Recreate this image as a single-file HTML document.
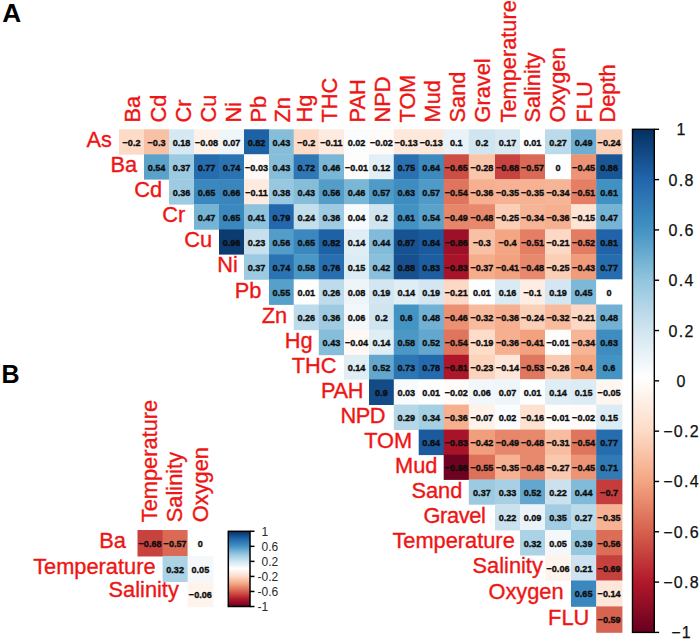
<!DOCTYPE html>
<html><head><meta charset="utf-8"><title>Correlation matrix</title>
<style>
html,body{margin:0;padding:0;background:#fff;}
body{width:700px;height:640px;overflow:hidden;font-family:"Liberation Sans",sans-serif;}
svg{display:block;font-family:"Liberation Sans",sans-serif;}
</style></head><body>
<svg width="700" height="640" viewBox="0 0 700 640">
<rect x="0" y="0" width="700" height="640" fill="#fff"/>
<defs><linearGradient id="g" x1="0" y1="0" x2="0" y2="1"><stop offset="0%" stop-color="#053061"/><stop offset="10%" stop-color="#2166AC"/><stop offset="20%" stop-color="#4393C3"/><stop offset="30%" stop-color="#92C5DE"/><stop offset="40%" stop-color="#D1E5F0"/><stop offset="49.3%" stop-color="#FFFFFF"/><stop offset="60%" stop-color="#FDDBC7"/><stop offset="70%" stop-color="#F4A582"/><stop offset="80%" stop-color="#D6604D"/><stop offset="90%" stop-color="#B2182B"/><stop offset="100%" stop-color="#67001F"/></linearGradient></defs>
<rect x="119.00" y="129.30" width="25.40" height="25.40" fill="#fddbc7"/>
<rect x="144.00" y="129.30" width="25.40" height="25.40" fill="#f8c0a4"/>
<rect x="169.00" y="129.30" width="25.40" height="25.40" fill="#d6e8f2"/>
<rect x="194.00" y="129.30" width="25.40" height="25.40" fill="#fef1e9"/>
<rect x="219.00" y="129.30" width="25.40" height="25.40" fill="#eff6fa"/>
<rect x="244.00" y="129.30" width="25.40" height="25.40" fill="#1e61a5"/>
<rect x="269.00" y="129.30" width="25.10" height="25.40" fill="#86beda"/>
<rect x="293.70" y="129.30" width="25.50" height="25.40" fill="#fddbc7"/>
<rect x="318.80" y="129.30" width="25.60" height="25.40" fill="#feebe0"/>
<rect x="344.00" y="129.30" width="25.40" height="25.40" fill="#fafcfe"/>
<rect x="369.00" y="129.30" width="25.20" height="25.40" fill="#fffbf9"/>
<rect x="393.80" y="129.30" width="25.30" height="25.40" fill="#fee8db"/>
<rect x="418.70" y="129.30" width="25.40" height="25.40" fill="#fee8db"/>
<rect x="443.70" y="129.30" width="25.50" height="25.40" fill="#e8f2f8"/>
<rect x="468.80" y="129.30" width="26.60" height="25.40" fill="#d1e5f0"/>
<rect x="495.00" y="129.30" width="25.40" height="25.40" fill="#d8e9f2"/>
<rect x="520.00" y="129.30" width="25.40" height="25.40" fill="#fdfefe"/>
<rect x="545.00" y="129.30" width="26.40" height="25.40" fill="#bbdaea"/>
<rect x="571.00" y="129.30" width="25.60" height="25.40" fill="#6eaed2"/>
<rect x="596.20" y="129.30" width="26.20" height="25.40" fill="#fbd0b9"/>
<rect x="144.00" y="154.30" width="25.40" height="25.30" fill="#5ba2cb"/>
<rect x="169.00" y="154.30" width="25.40" height="25.30" fill="#9bcae1"/>
<rect x="194.00" y="154.30" width="25.40" height="25.30" fill="#266daf"/>
<rect x="219.00" y="154.30" width="25.40" height="25.30" fill="#2b74b3"/>
<rect x="244.00" y="154.30" width="25.40" height="25.30" fill="#fffaf7"/>
<rect x="269.00" y="154.30" width="25.10" height="25.30" fill="#86beda"/>
<rect x="293.70" y="154.30" width="25.50" height="25.30" fill="#2f78b5"/>
<rect x="318.80" y="154.30" width="25.60" height="25.30" fill="#7ab6d6"/>
<rect x="344.00" y="154.30" width="25.40" height="25.30" fill="#fffdfc"/>
<rect x="369.00" y="154.30" width="25.20" height="25.30" fill="#e3eff6"/>
<rect x="393.80" y="154.30" width="25.30" height="25.30" fill="#2a71b2"/>
<rect x="418.70" y="154.30" width="25.40" height="25.30" fill="#3c8abe"/>
<rect x="443.70" y="154.30" width="25.50" height="25.30" fill="#cd4e44"/>
<rect x="468.80" y="154.30" width="26.60" height="25.30" fill="#f9c5ab"/>
<rect x="495.00" y="154.30" width="25.40" height="25.30" fill="#c8433f"/>
<rect x="520.00" y="154.30" width="25.40" height="25.30" fill="#da6a55"/>
<rect x="545.00" y="154.30" width="26.40" height="25.30" fill="#ffffff"/>
<rect x="571.00" y="154.30" width="25.60" height="25.30" fill="#ec9475"/>
<rect x="596.20" y="154.30" width="26.20" height="25.30" fill="#195696"/>
<rect x="169.00" y="179.20" width="25.40" height="25.40" fill="#9fcbe2"/>
<rect x="194.00" y="179.20" width="25.40" height="25.40" fill="#3a88bd"/>
<rect x="219.00" y="179.20" width="25.40" height="25.40" fill="#3985bc"/>
<rect x="244.00" y="179.20" width="25.40" height="25.40" fill="#feebe0"/>
<rect x="269.00" y="179.20" width="25.10" height="25.40" fill="#98c8e0"/>
<rect x="293.70" y="179.20" width="25.50" height="25.40" fill="#86beda"/>
<rect x="318.80" y="179.20" width="25.60" height="25.40" fill="#539dc8"/>
<rect x="344.00" y="179.20" width="25.40" height="25.40" fill="#7ab6d6"/>
<rect x="369.00" y="179.20" width="25.20" height="25.40" fill="#4f9ac7"/>
<rect x="393.80" y="179.20" width="25.30" height="25.40" fill="#3e8cc0"/>
<rect x="418.70" y="179.20" width="25.40" height="25.40" fill="#4f9ac7"/>
<rect x="443.70" y="179.20" width="25.50" height="25.40" fill="#df755d"/>
<rect x="468.80" y="179.20" width="26.60" height="25.40" fill="#f6b090"/>
<rect x="495.00" y="179.20" width="25.40" height="25.40" fill="#f6b293"/>
<rect x="520.00" y="179.20" width="25.40" height="25.40" fill="#f6b293"/>
<rect x="545.00" y="179.20" width="26.40" height="25.40" fill="#f7b597"/>
<rect x="571.00" y="179.20" width="25.60" height="25.40" fill="#e47f65"/>
<rect x="596.20" y="179.20" width="26.20" height="25.40" fill="#4191c2"/>
<rect x="194.00" y="204.20" width="25.40" height="25.50" fill="#76b4d5"/>
<rect x="219.00" y="204.20" width="25.40" height="25.50" fill="#3a88bd"/>
<rect x="244.00" y="204.20" width="25.40" height="25.50" fill="#8ec2dd"/>
<rect x="269.00" y="204.20" width="25.10" height="25.50" fill="#2368ad"/>
<rect x="293.70" y="204.20" width="25.50" height="25.50" fill="#c4dfec"/>
<rect x="318.80" y="204.20" width="25.60" height="25.50" fill="#9fcbe2"/>
<rect x="344.00" y="204.20" width="25.40" height="25.50" fill="#f6fafc"/>
<rect x="369.00" y="204.20" width="25.20" height="25.50" fill="#d1e5f0"/>
<rect x="393.80" y="204.20" width="25.30" height="25.50" fill="#4191c2"/>
<rect x="418.70" y="204.20" width="25.40" height="25.50" fill="#5ba2cb"/>
<rect x="443.70" y="204.20" width="25.50" height="25.50" fill="#e6866a"/>
<rect x="468.80" y="204.20" width="26.60" height="25.50" fill="#e8896d"/>
<rect x="495.00" y="204.20" width="25.40" height="25.50" fill="#fbceb6"/>
<rect x="520.00" y="204.20" width="25.40" height="25.50" fill="#f7b597"/>
<rect x="545.00" y="204.20" width="26.40" height="25.50" fill="#f6b090"/>
<rect x="571.00" y="204.20" width="25.60" height="25.50" fill="#fee4d5"/>
<rect x="596.20" y="204.20" width="26.20" height="25.50" fill="#76b4d5"/>
<rect x="219.00" y="229.30" width="25.40" height="25.30" fill="#0b3b70"/>
<rect x="244.00" y="229.30" width="25.40" height="25.30" fill="#c8e0ed"/>
<rect x="269.00" y="229.30" width="25.10" height="25.30" fill="#539dc8"/>
<rect x="293.70" y="229.30" width="25.50" height="25.30" fill="#3a88bd"/>
<rect x="318.80" y="229.30" width="25.60" height="25.30" fill="#1e61a5"/>
<rect x="344.00" y="229.30" width="25.40" height="25.30" fill="#dfedf4"/>
<rect x="369.00" y="229.30" width="25.20" height="25.30" fill="#82bbd9"/>
<rect x="393.80" y="229.30" width="25.30" height="25.30" fill="#175392"/>
<rect x="418.70" y="229.30" width="25.40" height="25.30" fill="#1b5b9d"/>
<rect x="443.70" y="229.30" width="25.50" height="25.30" fill="#9c1127"/>
<rect x="468.80" y="229.30" width="26.60" height="25.30" fill="#f8c0a4"/>
<rect x="495.00" y="229.30" width="25.40" height="25.30" fill="#f4a582"/>
<rect x="520.00" y="229.30" width="25.40" height="25.30" fill="#e47f65"/>
<rect x="545.00" y="229.30" width="26.40" height="25.30" fill="#fdd8c4"/>
<rect x="571.00" y="229.30" width="25.60" height="25.30" fill="#e27c62"/>
<rect x="596.20" y="229.30" width="26.20" height="25.30" fill="#2063a8"/>
<rect x="244.00" y="254.20" width="25.40" height="25.60" fill="#9bcae1"/>
<rect x="269.00" y="254.20" width="25.10" height="25.60" fill="#2b74b3"/>
<rect x="293.70" y="254.20" width="25.50" height="25.60" fill="#4b98c6"/>
<rect x="318.80" y="254.20" width="25.60" height="25.60" fill="#286fb1"/>
<rect x="344.00" y="254.20" width="25.40" height="25.60" fill="#dcecf4"/>
<rect x="369.00" y="254.20" width="25.20" height="25.60" fill="#8ac0db"/>
<rect x="393.80" y="254.20" width="25.30" height="25.60" fill="#16508e"/>
<rect x="418.70" y="254.20" width="25.40" height="25.60" fill="#1d5ea1"/>
<rect x="443.70" y="254.20" width="25.50" height="25.60" fill="#a71429"/>
<rect x="468.80" y="254.20" width="26.60" height="25.60" fill="#f5ad8c"/>
<rect x="495.00" y="254.20" width="25.40" height="25.60" fill="#f2a27f"/>
<rect x="520.00" y="254.20" width="25.40" height="25.60" fill="#e8896d"/>
<rect x="545.00" y="254.20" width="26.40" height="25.60" fill="#fbceb6"/>
<rect x="571.00" y="254.20" width="25.60" height="25.60" fill="#f09b7a"/>
<rect x="596.20" y="254.20" width="26.20" height="25.60" fill="#266daf"/>
<rect x="269.00" y="279.40" width="25.10" height="25.50" fill="#57a0ca"/>
<rect x="293.70" y="279.40" width="25.50" height="25.50" fill="#fdfefe"/>
<rect x="318.80" y="279.40" width="25.60" height="25.50" fill="#bedbeb"/>
<rect x="344.00" y="279.40" width="25.40" height="25.50" fill="#edf5f9"/>
<rect x="369.00" y="279.40" width="25.20" height="25.50" fill="#d3e6f1"/>
<rect x="393.80" y="279.40" width="25.30" height="25.50" fill="#dfedf4"/>
<rect x="418.70" y="279.40" width="25.40" height="25.50" fill="#d3e6f1"/>
<rect x="443.70" y="279.40" width="25.50" height="25.50" fill="#fdd8c4"/>
<rect x="468.80" y="279.40" width="26.60" height="25.50" fill="#fdfefe"/>
<rect x="495.00" y="279.40" width="25.40" height="25.50" fill="#daeaf3"/>
<rect x="520.00" y="279.40" width="25.40" height="25.50" fill="#feede3"/>
<rect x="545.00" y="279.40" width="26.40" height="25.50" fill="#d3e6f1"/>
<rect x="571.00" y="279.40" width="25.60" height="25.50" fill="#7eb8d7"/>
<rect x="596.20" y="279.40" width="26.20" height="25.50" fill="#ffffff"/>
<rect x="293.70" y="304.50" width="25.50" height="25.60" fill="#bedbeb"/>
<rect x="318.80" y="304.50" width="25.60" height="25.60" fill="#9fcbe2"/>
<rect x="344.00" y="304.50" width="25.40" height="25.60" fill="#f1f7fa"/>
<rect x="369.00" y="304.50" width="25.20" height="25.60" fill="#d1e5f0"/>
<rect x="393.80" y="304.50" width="25.30" height="25.60" fill="#4393c3"/>
<rect x="418.70" y="304.50" width="25.40" height="25.60" fill="#72b1d3"/>
<rect x="443.70" y="304.50" width="25.50" height="25.60" fill="#eb9072"/>
<rect x="468.80" y="304.50" width="26.60" height="25.60" fill="#f8bb9e"/>
<rect x="495.00" y="304.50" width="25.40" height="25.60" fill="#f6b090"/>
<rect x="520.00" y="304.50" width="25.40" height="25.60" fill="#fbd0b9"/>
<rect x="545.00" y="304.50" width="26.40" height="25.60" fill="#f8bb9e"/>
<rect x="571.00" y="304.50" width="25.60" height="25.60" fill="#fdd8c4"/>
<rect x="596.20" y="304.50" width="26.20" height="25.60" fill="#72b1d3"/>
<rect x="318.80" y="329.70" width="25.60" height="25.50" fill="#86beda"/>
<rect x="344.00" y="329.70" width="25.40" height="25.50" fill="#fff8f4"/>
<rect x="369.00" y="329.70" width="25.20" height="25.50" fill="#dfedf4"/>
<rect x="393.80" y="329.70" width="25.30" height="25.50" fill="#4b98c6"/>
<rect x="418.70" y="329.70" width="25.40" height="25.50" fill="#63a7ce"/>
<rect x="443.70" y="329.70" width="25.50" height="25.50" fill="#df755d"/>
<rect x="468.80" y="329.70" width="26.60" height="25.50" fill="#fdddca"/>
<rect x="495.00" y="329.70" width="25.40" height="25.50" fill="#f6b090"/>
<rect x="520.00" y="329.70" width="25.40" height="25.50" fill="#f2a27f"/>
<rect x="545.00" y="329.70" width="26.40" height="25.50" fill="#fffdfc"/>
<rect x="571.00" y="329.70" width="25.60" height="25.50" fill="#f7b597"/>
<rect x="596.20" y="329.70" width="26.20" height="25.50" fill="#3e8cc0"/>
<rect x="344.00" y="354.80" width="25.40" height="24.90" fill="#dfedf4"/>
<rect x="369.00" y="354.80" width="25.20" height="24.90" fill="#63a7ce"/>
<rect x="393.80" y="354.80" width="25.30" height="24.90" fill="#2d76b4"/>
<rect x="418.70" y="354.80" width="25.40" height="24.90" fill="#246aae"/>
<rect x="443.70" y="354.80" width="25.50" height="24.90" fill="#ae172a"/>
<rect x="468.80" y="354.80" width="26.60" height="24.90" fill="#fcd3bd"/>
<rect x="495.00" y="354.80" width="25.40" height="24.90" fill="#fee6d8"/>
<rect x="520.00" y="354.80" width="25.40" height="24.90" fill="#e07860"/>
<rect x="545.00" y="354.80" width="26.40" height="24.90" fill="#facbb2"/>
<rect x="571.00" y="354.80" width="25.60" height="24.90" fill="#f4a582"/>
<rect x="596.20" y="354.80" width="26.20" height="24.90" fill="#4393c3"/>
<rect x="369.00" y="379.30" width="25.20" height="25.70" fill="#134b86"/>
<rect x="393.80" y="379.30" width="25.30" height="25.70" fill="#f8fbfd"/>
<rect x="418.70" y="379.30" width="25.40" height="25.70" fill="#fdfefe"/>
<rect x="443.70" y="379.30" width="25.50" height="25.70" fill="#fffbf9"/>
<rect x="468.80" y="379.30" width="26.60" height="25.70" fill="#f1f7fa"/>
<rect x="495.00" y="379.30" width="25.40" height="25.70" fill="#eff6fa"/>
<rect x="520.00" y="379.30" width="25.40" height="25.70" fill="#fdfefe"/>
<rect x="545.00" y="379.30" width="26.40" height="25.70" fill="#dfedf4"/>
<rect x="571.00" y="379.30" width="25.60" height="25.70" fill="#dcecf4"/>
<rect x="596.20" y="379.30" width="26.20" height="25.70" fill="#fef6f1"/>
<rect x="393.80" y="404.60" width="25.30" height="25.40" fill="#b5d7e8"/>
<rect x="418.70" y="404.60" width="25.40" height="25.40" fill="#a5cfe3"/>
<rect x="443.70" y="404.60" width="25.50" height="25.40" fill="#f6b090"/>
<rect x="468.80" y="404.60" width="26.60" height="25.40" fill="#fef2eb"/>
<rect x="495.00" y="404.60" width="25.40" height="25.40" fill="#fafcfe"/>
<rect x="520.00" y="404.60" width="25.40" height="25.40" fill="#fde2d2"/>
<rect x="545.00" y="404.60" width="26.40" height="25.40" fill="#fffdfc"/>
<rect x="571.00" y="404.60" width="25.60" height="25.40" fill="#fffbf9"/>
<rect x="596.20" y="404.60" width="26.20" height="25.40" fill="#dcecf4"/>
<rect x="418.70" y="429.60" width="25.40" height="25.50" fill="#1b5b9d"/>
<rect x="443.70" y="429.60" width="25.50" height="25.50" fill="#a71429"/>
<rect x="468.80" y="429.60" width="26.60" height="25.50" fill="#f19e7d"/>
<rect x="495.00" y="429.60" width="25.40" height="25.50" fill="#e6866a"/>
<rect x="520.00" y="429.60" width="25.40" height="25.50" fill="#e8896d"/>
<rect x="545.00" y="429.60" width="26.40" height="25.50" fill="#f8bda1"/>
<rect x="571.00" y="429.60" width="25.60" height="25.50" fill="#df755d"/>
<rect x="596.20" y="429.60" width="26.20" height="25.50" fill="#266daf"/>
<rect x="443.70" y="454.70" width="25.50" height="25.20" fill="#6e0220"/>
<rect x="468.80" y="454.70" width="26.60" height="25.20" fill="#de715a"/>
<rect x="495.00" y="454.70" width="25.40" height="25.20" fill="#f6b293"/>
<rect x="520.00" y="454.70" width="25.40" height="25.20" fill="#e8896d"/>
<rect x="545.00" y="454.70" width="26.40" height="25.20" fill="#fac8af"/>
<rect x="571.00" y="454.70" width="25.60" height="25.20" fill="#ec9475"/>
<rect x="596.20" y="454.70" width="26.20" height="25.20" fill="#307ab6"/>
<rect x="468.80" y="479.50" width="26.60" height="25.20" fill="#9bcae1"/>
<rect x="495.00" y="479.50" width="25.40" height="25.20" fill="#a8d0e4"/>
<rect x="520.00" y="479.50" width="25.40" height="25.20" fill="#63a7ce"/>
<rect x="545.00" y="479.50" width="26.40" height="25.20" fill="#cbe2ee"/>
<rect x="571.00" y="479.50" width="25.60" height="25.20" fill="#82bbd9"/>
<rect x="596.20" y="479.50" width="26.20" height="25.20" fill="#c43c3c"/>
<rect x="495.00" y="504.30" width="25.40" height="26.10" fill="#cbe2ee"/>
<rect x="520.00" y="504.30" width="25.40" height="26.10" fill="#eaf3f8"/>
<rect x="545.00" y="504.30" width="26.40" height="26.10" fill="#a2cde2"/>
<rect x="571.00" y="504.30" width="25.60" height="26.10" fill="#bbdaea"/>
<rect x="596.20" y="504.30" width="26.20" height="26.10" fill="#f6b293"/>
<rect x="520.00" y="530.00" width="25.40" height="25.50" fill="#abd2e5"/>
<rect x="545.00" y="530.00" width="26.40" height="25.50" fill="#f4f8fb"/>
<rect x="571.00" y="530.00" width="25.60" height="25.50" fill="#95c7df"/>
<rect x="596.20" y="530.00" width="26.20" height="25.50" fill="#dc6e58"/>
<rect x="545.00" y="555.10" width="26.40" height="25.80" fill="#fef4ee"/>
<rect x="571.00" y="555.10" width="25.60" height="25.80" fill="#cee3ef"/>
<rect x="596.20" y="555.10" width="26.20" height="25.80" fill="#c6403e"/>
<rect x="571.00" y="580.50" width="25.60" height="26.30" fill="#3a88bd"/>
<rect x="596.20" y="580.50" width="26.20" height="26.30" fill="#fee6d8"/>
<rect x="596.20" y="606.40" width="26.20" height="26.40" fill="#d86350"/>
<text transform="translate(131.50,145.80) scale(1.0,1.05)" font-size="9.1" font-weight="bold" text-anchor="middle" fill="#0c0c0c" stroke="#0c0c0c" stroke-width="0.35">−0.2</text>
<text transform="translate(156.50,145.80) scale(1.0,1.05)" font-size="9.1" font-weight="bold" text-anchor="middle" fill="#0c0c0c" stroke="#0c0c0c" stroke-width="0.35">−0.3</text>
<text transform="translate(181.50,145.80) scale(1.0,1.05)" font-size="9.1" font-weight="bold" text-anchor="middle" fill="#0c0c0c" stroke="#0c0c0c" stroke-width="0.35">0.18</text>
<text transform="translate(206.50,145.80) scale(1.0,1.05)" font-size="9.1" font-weight="bold" text-anchor="middle" fill="#0c0c0c" stroke="#0c0c0c" stroke-width="0.35">−0.08</text>
<text transform="translate(231.50,145.80) scale(1.0,1.05)" font-size="9.1" font-weight="bold" text-anchor="middle" fill="#0c0c0c" stroke="#0c0c0c" stroke-width="0.35">0.07</text>
<text transform="translate(256.50,145.80) scale(1.0,1.05)" font-size="9.1" font-weight="bold" text-anchor="middle" fill="#0c0c0c" stroke="#0c0c0c" stroke-width="0.35">0.82</text>
<text transform="translate(281.35,145.80) scale(1.0,1.05)" font-size="9.1" font-weight="bold" text-anchor="middle" fill="#0c0c0c" stroke="#0c0c0c" stroke-width="0.35">0.43</text>
<text transform="translate(306.25,145.80) scale(1.0,1.05)" font-size="9.1" font-weight="bold" text-anchor="middle" fill="#0c0c0c" stroke="#0c0c0c" stroke-width="0.35">−0.2</text>
<text transform="translate(331.40,145.80) scale(1.0,1.05)" font-size="9.1" font-weight="bold" text-anchor="middle" fill="#0c0c0c" stroke="#0c0c0c" stroke-width="0.35">−0.11</text>
<text transform="translate(356.50,145.80) scale(1.0,1.05)" font-size="9.1" font-weight="bold" text-anchor="middle" fill="#0c0c0c" stroke="#0c0c0c" stroke-width="0.35">0.02</text>
<text transform="translate(381.40,145.80) scale(1.0,1.05)" font-size="9.1" font-weight="bold" text-anchor="middle" fill="#0c0c0c" stroke="#0c0c0c" stroke-width="0.35">−0.02</text>
<text transform="translate(406.25,145.80) scale(1.0,1.05)" font-size="9.1" font-weight="bold" text-anchor="middle" fill="#0c0c0c" stroke="#0c0c0c" stroke-width="0.35">−0.13</text>
<text transform="translate(431.20,145.80) scale(1.0,1.05)" font-size="9.1" font-weight="bold" text-anchor="middle" fill="#0c0c0c" stroke="#0c0c0c" stroke-width="0.35">−0.13</text>
<text transform="translate(456.25,145.80) scale(1.0,1.05)" font-size="9.1" font-weight="bold" text-anchor="middle" fill="#0c0c0c" stroke="#0c0c0c" stroke-width="0.35">0.1</text>
<text transform="translate(481.90,145.80) scale(1.0,1.05)" font-size="9.1" font-weight="bold" text-anchor="middle" fill="#0c0c0c" stroke="#0c0c0c" stroke-width="0.35">0.2</text>
<text transform="translate(507.50,145.80) scale(1.0,1.05)" font-size="9.1" font-weight="bold" text-anchor="middle" fill="#0c0c0c" stroke="#0c0c0c" stroke-width="0.35">0.17</text>
<text transform="translate(532.50,145.80) scale(1.0,1.05)" font-size="9.1" font-weight="bold" text-anchor="middle" fill="#0c0c0c" stroke="#0c0c0c" stroke-width="0.35">0.01</text>
<text transform="translate(558.00,145.80) scale(1.0,1.05)" font-size="9.1" font-weight="bold" text-anchor="middle" fill="#0c0c0c" stroke="#0c0c0c" stroke-width="0.35">0.27</text>
<text transform="translate(583.60,145.80) scale(1.0,1.05)" font-size="9.1" font-weight="bold" text-anchor="middle" fill="#0c0c0c" stroke="#0c0c0c" stroke-width="0.35">0.49</text>
<text transform="translate(609.10,145.80) scale(1.0,1.05)" font-size="9.1" font-weight="bold" text-anchor="middle" fill="#0c0c0c" stroke="#0c0c0c" stroke-width="0.35">−0.24</text>
<text transform="translate(156.50,170.75) scale(1.0,1.05)" font-size="9.1" font-weight="bold" text-anchor="middle" fill="#0c0c0c" stroke="#0c0c0c" stroke-width="0.35">0.54</text>
<text transform="translate(181.50,170.75) scale(1.0,1.05)" font-size="9.1" font-weight="bold" text-anchor="middle" fill="#0c0c0c" stroke="#0c0c0c" stroke-width="0.35">0.37</text>
<text transform="translate(206.50,170.75) scale(1.0,1.05)" font-size="9.1" font-weight="bold" text-anchor="middle" fill="#0c0c0c" stroke="#0c0c0c" stroke-width="0.35">0.77</text>
<text transform="translate(231.50,170.75) scale(1.0,1.05)" font-size="9.1" font-weight="bold" text-anchor="middle" fill="#0c0c0c" stroke="#0c0c0c" stroke-width="0.35">0.74</text>
<text transform="translate(256.50,170.75) scale(1.0,1.05)" font-size="9.1" font-weight="bold" text-anchor="middle" fill="#0c0c0c" stroke="#0c0c0c" stroke-width="0.35">−0.03</text>
<text transform="translate(281.35,170.75) scale(1.0,1.05)" font-size="9.1" font-weight="bold" text-anchor="middle" fill="#0c0c0c" stroke="#0c0c0c" stroke-width="0.35">0.43</text>
<text transform="translate(306.25,170.75) scale(1.0,1.05)" font-size="9.1" font-weight="bold" text-anchor="middle" fill="#0c0c0c" stroke="#0c0c0c" stroke-width="0.35">0.72</text>
<text transform="translate(331.40,170.75) scale(1.0,1.05)" font-size="9.1" font-weight="bold" text-anchor="middle" fill="#0c0c0c" stroke="#0c0c0c" stroke-width="0.35">0.46</text>
<text transform="translate(356.50,170.75) scale(1.0,1.05)" font-size="9.1" font-weight="bold" text-anchor="middle" fill="#0c0c0c" stroke="#0c0c0c" stroke-width="0.35">−0.01</text>
<text transform="translate(381.40,170.75) scale(1.0,1.05)" font-size="9.1" font-weight="bold" text-anchor="middle" fill="#0c0c0c" stroke="#0c0c0c" stroke-width="0.35">0.12</text>
<text transform="translate(406.25,170.75) scale(1.0,1.05)" font-size="9.1" font-weight="bold" text-anchor="middle" fill="#0c0c0c" stroke="#0c0c0c" stroke-width="0.35">0.75</text>
<text transform="translate(431.20,170.75) scale(1.0,1.05)" font-size="9.1" font-weight="bold" text-anchor="middle" fill="#0c0c0c" stroke="#0c0c0c" stroke-width="0.35">0.64</text>
<text transform="translate(456.25,170.75) scale(1.0,1.05)" font-size="9.1" font-weight="bold" text-anchor="middle" fill="#0c0c0c" stroke="#0c0c0c" stroke-width="0.35">−0.65</text>
<text transform="translate(481.90,170.75) scale(1.0,1.05)" font-size="9.1" font-weight="bold" text-anchor="middle" fill="#0c0c0c" stroke="#0c0c0c" stroke-width="0.35">−0.28</text>
<text transform="translate(507.50,170.75) scale(1.0,1.05)" font-size="9.1" font-weight="bold" text-anchor="middle" fill="#0c0c0c" stroke="#0c0c0c" stroke-width="0.35">−0.68</text>
<text transform="translate(532.50,170.75) scale(1.0,1.05)" font-size="9.1" font-weight="bold" text-anchor="middle" fill="#0c0c0c" stroke="#0c0c0c" stroke-width="0.35">−0.57</text>
<text transform="translate(558.00,170.75) scale(1.0,1.05)" font-size="9.1" font-weight="bold" text-anchor="middle" fill="#0c0c0c" stroke="#0c0c0c" stroke-width="0.35">0</text>
<text transform="translate(583.60,170.75) scale(1.0,1.05)" font-size="9.1" font-weight="bold" text-anchor="middle" fill="#0c0c0c" stroke="#0c0c0c" stroke-width="0.35">−0.45</text>
<text transform="translate(609.10,170.75) scale(1.0,1.05)" font-size="9.1" font-weight="bold" text-anchor="middle" fill="#0c0c0c" stroke="#0c0c0c" stroke-width="0.35">0.86</text>
<text transform="translate(181.50,195.70) scale(1.0,1.05)" font-size="9.1" font-weight="bold" text-anchor="middle" fill="#0c0c0c" stroke="#0c0c0c" stroke-width="0.35">0.36</text>
<text transform="translate(206.50,195.70) scale(1.0,1.05)" font-size="9.1" font-weight="bold" text-anchor="middle" fill="#0c0c0c" stroke="#0c0c0c" stroke-width="0.35">0.65</text>
<text transform="translate(231.50,195.70) scale(1.0,1.05)" font-size="9.1" font-weight="bold" text-anchor="middle" fill="#0c0c0c" stroke="#0c0c0c" stroke-width="0.35">0.66</text>
<text transform="translate(256.50,195.70) scale(1.0,1.05)" font-size="9.1" font-weight="bold" text-anchor="middle" fill="#0c0c0c" stroke="#0c0c0c" stroke-width="0.35">−0.11</text>
<text transform="translate(281.35,195.70) scale(1.0,1.05)" font-size="9.1" font-weight="bold" text-anchor="middle" fill="#0c0c0c" stroke="#0c0c0c" stroke-width="0.35">0.38</text>
<text transform="translate(306.25,195.70) scale(1.0,1.05)" font-size="9.1" font-weight="bold" text-anchor="middle" fill="#0c0c0c" stroke="#0c0c0c" stroke-width="0.35">0.43</text>
<text transform="translate(331.40,195.70) scale(1.0,1.05)" font-size="9.1" font-weight="bold" text-anchor="middle" fill="#0c0c0c" stroke="#0c0c0c" stroke-width="0.35">0.56</text>
<text transform="translate(356.50,195.70) scale(1.0,1.05)" font-size="9.1" font-weight="bold" text-anchor="middle" fill="#0c0c0c" stroke="#0c0c0c" stroke-width="0.35">0.46</text>
<text transform="translate(381.40,195.70) scale(1.0,1.05)" font-size="9.1" font-weight="bold" text-anchor="middle" fill="#0c0c0c" stroke="#0c0c0c" stroke-width="0.35">0.57</text>
<text transform="translate(406.25,195.70) scale(1.0,1.05)" font-size="9.1" font-weight="bold" text-anchor="middle" fill="#0c0c0c" stroke="#0c0c0c" stroke-width="0.35">0.63</text>
<text transform="translate(431.20,195.70) scale(1.0,1.05)" font-size="9.1" font-weight="bold" text-anchor="middle" fill="#0c0c0c" stroke="#0c0c0c" stroke-width="0.35">0.57</text>
<text transform="translate(456.25,195.70) scale(1.0,1.05)" font-size="9.1" font-weight="bold" text-anchor="middle" fill="#0c0c0c" stroke="#0c0c0c" stroke-width="0.35">−0.54</text>
<text transform="translate(481.90,195.70) scale(1.0,1.05)" font-size="9.1" font-weight="bold" text-anchor="middle" fill="#0c0c0c" stroke="#0c0c0c" stroke-width="0.35">−0.36</text>
<text transform="translate(507.50,195.70) scale(1.0,1.05)" font-size="9.1" font-weight="bold" text-anchor="middle" fill="#0c0c0c" stroke="#0c0c0c" stroke-width="0.35">−0.35</text>
<text transform="translate(532.50,195.70) scale(1.0,1.05)" font-size="9.1" font-weight="bold" text-anchor="middle" fill="#0c0c0c" stroke="#0c0c0c" stroke-width="0.35">−0.35</text>
<text transform="translate(558.00,195.70) scale(1.0,1.05)" font-size="9.1" font-weight="bold" text-anchor="middle" fill="#0c0c0c" stroke="#0c0c0c" stroke-width="0.35">−0.34</text>
<text transform="translate(583.60,195.70) scale(1.0,1.05)" font-size="9.1" font-weight="bold" text-anchor="middle" fill="#0c0c0c" stroke="#0c0c0c" stroke-width="0.35">−0.51</text>
<text transform="translate(609.10,195.70) scale(1.0,1.05)" font-size="9.1" font-weight="bold" text-anchor="middle" fill="#0c0c0c" stroke="#0c0c0c" stroke-width="0.35">0.61</text>
<text transform="translate(206.50,220.75) scale(1.0,1.05)" font-size="9.1" font-weight="bold" text-anchor="middle" fill="#0c0c0c" stroke="#0c0c0c" stroke-width="0.35">0.47</text>
<text transform="translate(231.50,220.75) scale(1.0,1.05)" font-size="9.1" font-weight="bold" text-anchor="middle" fill="#0c0c0c" stroke="#0c0c0c" stroke-width="0.35">0.65</text>
<text transform="translate(256.50,220.75) scale(1.0,1.05)" font-size="9.1" font-weight="bold" text-anchor="middle" fill="#0c0c0c" stroke="#0c0c0c" stroke-width="0.35">0.41</text>
<text transform="translate(281.35,220.75) scale(1.0,1.05)" font-size="9.1" font-weight="bold" text-anchor="middle" fill="#0c0c0c" stroke="#0c0c0c" stroke-width="0.35">0.79</text>
<text transform="translate(306.25,220.75) scale(1.0,1.05)" font-size="9.1" font-weight="bold" text-anchor="middle" fill="#0c0c0c" stroke="#0c0c0c" stroke-width="0.35">0.24</text>
<text transform="translate(331.40,220.75) scale(1.0,1.05)" font-size="9.1" font-weight="bold" text-anchor="middle" fill="#0c0c0c" stroke="#0c0c0c" stroke-width="0.35">0.36</text>
<text transform="translate(356.50,220.75) scale(1.0,1.05)" font-size="9.1" font-weight="bold" text-anchor="middle" fill="#0c0c0c" stroke="#0c0c0c" stroke-width="0.35">0.04</text>
<text transform="translate(381.40,220.75) scale(1.0,1.05)" font-size="9.1" font-weight="bold" text-anchor="middle" fill="#0c0c0c" stroke="#0c0c0c" stroke-width="0.35">0.2</text>
<text transform="translate(406.25,220.75) scale(1.0,1.05)" font-size="9.1" font-weight="bold" text-anchor="middle" fill="#0c0c0c" stroke="#0c0c0c" stroke-width="0.35">0.61</text>
<text transform="translate(431.20,220.75) scale(1.0,1.05)" font-size="9.1" font-weight="bold" text-anchor="middle" fill="#0c0c0c" stroke="#0c0c0c" stroke-width="0.35">0.54</text>
<text transform="translate(456.25,220.75) scale(1.0,1.05)" font-size="9.1" font-weight="bold" text-anchor="middle" fill="#0c0c0c" stroke="#0c0c0c" stroke-width="0.35">−0.49</text>
<text transform="translate(481.90,220.75) scale(1.0,1.05)" font-size="9.1" font-weight="bold" text-anchor="middle" fill="#0c0c0c" stroke="#0c0c0c" stroke-width="0.35">−0.48</text>
<text transform="translate(507.50,220.75) scale(1.0,1.05)" font-size="9.1" font-weight="bold" text-anchor="middle" fill="#0c0c0c" stroke="#0c0c0c" stroke-width="0.35">−0.25</text>
<text transform="translate(532.50,220.75) scale(1.0,1.05)" font-size="9.1" font-weight="bold" text-anchor="middle" fill="#0c0c0c" stroke="#0c0c0c" stroke-width="0.35">−0.34</text>
<text transform="translate(558.00,220.75) scale(1.0,1.05)" font-size="9.1" font-weight="bold" text-anchor="middle" fill="#0c0c0c" stroke="#0c0c0c" stroke-width="0.35">−0.36</text>
<text transform="translate(583.60,220.75) scale(1.0,1.05)" font-size="9.1" font-weight="bold" text-anchor="middle" fill="#0c0c0c" stroke="#0c0c0c" stroke-width="0.35">−0.15</text>
<text transform="translate(609.10,220.75) scale(1.0,1.05)" font-size="9.1" font-weight="bold" text-anchor="middle" fill="#0c0c0c" stroke="#0c0c0c" stroke-width="0.35">0.47</text>
<text transform="translate(231.50,245.75) scale(1.0,1.05)" font-size="9.1" font-weight="bold" text-anchor="middle" fill="#0c0c0c" stroke="#0c0c0c" stroke-width="0.35">0.96</text>
<text transform="translate(256.50,245.75) scale(1.0,1.05)" font-size="9.1" font-weight="bold" text-anchor="middle" fill="#0c0c0c" stroke="#0c0c0c" stroke-width="0.35">0.23</text>
<text transform="translate(281.35,245.75) scale(1.0,1.05)" font-size="9.1" font-weight="bold" text-anchor="middle" fill="#0c0c0c" stroke="#0c0c0c" stroke-width="0.35">0.56</text>
<text transform="translate(306.25,245.75) scale(1.0,1.05)" font-size="9.1" font-weight="bold" text-anchor="middle" fill="#0c0c0c" stroke="#0c0c0c" stroke-width="0.35">0.65</text>
<text transform="translate(331.40,245.75) scale(1.0,1.05)" font-size="9.1" font-weight="bold" text-anchor="middle" fill="#0c0c0c" stroke="#0c0c0c" stroke-width="0.35">0.82</text>
<text transform="translate(356.50,245.75) scale(1.0,1.05)" font-size="9.1" font-weight="bold" text-anchor="middle" fill="#0c0c0c" stroke="#0c0c0c" stroke-width="0.35">0.14</text>
<text transform="translate(381.40,245.75) scale(1.0,1.05)" font-size="9.1" font-weight="bold" text-anchor="middle" fill="#0c0c0c" stroke="#0c0c0c" stroke-width="0.35">0.44</text>
<text transform="translate(406.25,245.75) scale(1.0,1.05)" font-size="9.1" font-weight="bold" text-anchor="middle" fill="#0c0c0c" stroke="#0c0c0c" stroke-width="0.35">0.87</text>
<text transform="translate(431.20,245.75) scale(1.0,1.05)" font-size="9.1" font-weight="bold" text-anchor="middle" fill="#0c0c0c" stroke="#0c0c0c" stroke-width="0.35">0.84</text>
<text transform="translate(456.25,245.75) scale(1.0,1.05)" font-size="9.1" font-weight="bold" text-anchor="middle" fill="#0c0c0c" stroke="#0c0c0c" stroke-width="0.35">−0.86</text>
<text transform="translate(481.90,245.75) scale(1.0,1.05)" font-size="9.1" font-weight="bold" text-anchor="middle" fill="#0c0c0c" stroke="#0c0c0c" stroke-width="0.35">−0.3</text>
<text transform="translate(507.50,245.75) scale(1.0,1.05)" font-size="9.1" font-weight="bold" text-anchor="middle" fill="#0c0c0c" stroke="#0c0c0c" stroke-width="0.35">−0.4</text>
<text transform="translate(532.50,245.75) scale(1.0,1.05)" font-size="9.1" font-weight="bold" text-anchor="middle" fill="#0c0c0c" stroke="#0c0c0c" stroke-width="0.35">−0.51</text>
<text transform="translate(558.00,245.75) scale(1.0,1.05)" font-size="9.1" font-weight="bold" text-anchor="middle" fill="#0c0c0c" stroke="#0c0c0c" stroke-width="0.35">−0.21</text>
<text transform="translate(583.60,245.75) scale(1.0,1.05)" font-size="9.1" font-weight="bold" text-anchor="middle" fill="#0c0c0c" stroke="#0c0c0c" stroke-width="0.35">−0.52</text>
<text transform="translate(609.10,245.75) scale(1.0,1.05)" font-size="9.1" font-weight="bold" text-anchor="middle" fill="#0c0c0c" stroke="#0c0c0c" stroke-width="0.35">0.81</text>
<text transform="translate(256.50,270.80) scale(1.0,1.05)" font-size="9.1" font-weight="bold" text-anchor="middle" fill="#0c0c0c" stroke="#0c0c0c" stroke-width="0.35">0.37</text>
<text transform="translate(281.35,270.80) scale(1.0,1.05)" font-size="9.1" font-weight="bold" text-anchor="middle" fill="#0c0c0c" stroke="#0c0c0c" stroke-width="0.35">0.74</text>
<text transform="translate(306.25,270.80) scale(1.0,1.05)" font-size="9.1" font-weight="bold" text-anchor="middle" fill="#0c0c0c" stroke="#0c0c0c" stroke-width="0.35">0.58</text>
<text transform="translate(331.40,270.80) scale(1.0,1.05)" font-size="9.1" font-weight="bold" text-anchor="middle" fill="#0c0c0c" stroke="#0c0c0c" stroke-width="0.35">0.76</text>
<text transform="translate(356.50,270.80) scale(1.0,1.05)" font-size="9.1" font-weight="bold" text-anchor="middle" fill="#0c0c0c" stroke="#0c0c0c" stroke-width="0.35">0.15</text>
<text transform="translate(381.40,270.80) scale(1.0,1.05)" font-size="9.1" font-weight="bold" text-anchor="middle" fill="#0c0c0c" stroke="#0c0c0c" stroke-width="0.35">0.42</text>
<text transform="translate(406.25,270.80) scale(1.0,1.05)" font-size="9.1" font-weight="bold" text-anchor="middle" fill="#0c0c0c" stroke="#0c0c0c" stroke-width="0.35">0.88</text>
<text transform="translate(431.20,270.80) scale(1.0,1.05)" font-size="9.1" font-weight="bold" text-anchor="middle" fill="#0c0c0c" stroke="#0c0c0c" stroke-width="0.35">0.83</text>
<text transform="translate(456.25,270.80) scale(1.0,1.05)" font-size="9.1" font-weight="bold" text-anchor="middle" fill="#0c0c0c" stroke="#0c0c0c" stroke-width="0.35">−0.83</text>
<text transform="translate(481.90,270.80) scale(1.0,1.05)" font-size="9.1" font-weight="bold" text-anchor="middle" fill="#0c0c0c" stroke="#0c0c0c" stroke-width="0.35">−0.37</text>
<text transform="translate(507.50,270.80) scale(1.0,1.05)" font-size="9.1" font-weight="bold" text-anchor="middle" fill="#0c0c0c" stroke="#0c0c0c" stroke-width="0.35">−0.41</text>
<text transform="translate(532.50,270.80) scale(1.0,1.05)" font-size="9.1" font-weight="bold" text-anchor="middle" fill="#0c0c0c" stroke="#0c0c0c" stroke-width="0.35">−0.48</text>
<text transform="translate(558.00,270.80) scale(1.0,1.05)" font-size="9.1" font-weight="bold" text-anchor="middle" fill="#0c0c0c" stroke="#0c0c0c" stroke-width="0.35">−0.25</text>
<text transform="translate(583.60,270.80) scale(1.0,1.05)" font-size="9.1" font-weight="bold" text-anchor="middle" fill="#0c0c0c" stroke="#0c0c0c" stroke-width="0.35">−0.43</text>
<text transform="translate(609.10,270.80) scale(1.0,1.05)" font-size="9.1" font-weight="bold" text-anchor="middle" fill="#0c0c0c" stroke="#0c0c0c" stroke-width="0.35">0.77</text>
<text transform="translate(281.35,295.95) scale(1.0,1.05)" font-size="9.1" font-weight="bold" text-anchor="middle" fill="#0c0c0c" stroke="#0c0c0c" stroke-width="0.35">0.55</text>
<text transform="translate(306.25,295.95) scale(1.0,1.05)" font-size="9.1" font-weight="bold" text-anchor="middle" fill="#0c0c0c" stroke="#0c0c0c" stroke-width="0.35">0.01</text>
<text transform="translate(331.40,295.95) scale(1.0,1.05)" font-size="9.1" font-weight="bold" text-anchor="middle" fill="#0c0c0c" stroke="#0c0c0c" stroke-width="0.35">0.26</text>
<text transform="translate(356.50,295.95) scale(1.0,1.05)" font-size="9.1" font-weight="bold" text-anchor="middle" fill="#0c0c0c" stroke="#0c0c0c" stroke-width="0.35">0.08</text>
<text transform="translate(381.40,295.95) scale(1.0,1.05)" font-size="9.1" font-weight="bold" text-anchor="middle" fill="#0c0c0c" stroke="#0c0c0c" stroke-width="0.35">0.19</text>
<text transform="translate(406.25,295.95) scale(1.0,1.05)" font-size="9.1" font-weight="bold" text-anchor="middle" fill="#0c0c0c" stroke="#0c0c0c" stroke-width="0.35">0.14</text>
<text transform="translate(431.20,295.95) scale(1.0,1.05)" font-size="9.1" font-weight="bold" text-anchor="middle" fill="#0c0c0c" stroke="#0c0c0c" stroke-width="0.35">0.19</text>
<text transform="translate(456.25,295.95) scale(1.0,1.05)" font-size="9.1" font-weight="bold" text-anchor="middle" fill="#0c0c0c" stroke="#0c0c0c" stroke-width="0.35">−0.21</text>
<text transform="translate(481.90,295.95) scale(1.0,1.05)" font-size="9.1" font-weight="bold" text-anchor="middle" fill="#0c0c0c" stroke="#0c0c0c" stroke-width="0.35">0.01</text>
<text transform="translate(507.50,295.95) scale(1.0,1.05)" font-size="9.1" font-weight="bold" text-anchor="middle" fill="#0c0c0c" stroke="#0c0c0c" stroke-width="0.35">0.16</text>
<text transform="translate(532.50,295.95) scale(1.0,1.05)" font-size="9.1" font-weight="bold" text-anchor="middle" fill="#0c0c0c" stroke="#0c0c0c" stroke-width="0.35">−0.1</text>
<text transform="translate(558.00,295.95) scale(1.0,1.05)" font-size="9.1" font-weight="bold" text-anchor="middle" fill="#0c0c0c" stroke="#0c0c0c" stroke-width="0.35">0.19</text>
<text transform="translate(583.60,295.95) scale(1.0,1.05)" font-size="9.1" font-weight="bold" text-anchor="middle" fill="#0c0c0c" stroke="#0c0c0c" stroke-width="0.35">0.45</text>
<text transform="translate(609.10,295.95) scale(1.0,1.05)" font-size="9.1" font-weight="bold" text-anchor="middle" fill="#0c0c0c" stroke="#0c0c0c" stroke-width="0.35">0</text>
<text transform="translate(306.25,321.10) scale(1.0,1.05)" font-size="9.1" font-weight="bold" text-anchor="middle" fill="#0c0c0c" stroke="#0c0c0c" stroke-width="0.35">0.26</text>
<text transform="translate(331.40,321.10) scale(1.0,1.05)" font-size="9.1" font-weight="bold" text-anchor="middle" fill="#0c0c0c" stroke="#0c0c0c" stroke-width="0.35">0.36</text>
<text transform="translate(356.50,321.10) scale(1.0,1.05)" font-size="9.1" font-weight="bold" text-anchor="middle" fill="#0c0c0c" stroke="#0c0c0c" stroke-width="0.35">0.06</text>
<text transform="translate(381.40,321.10) scale(1.0,1.05)" font-size="9.1" font-weight="bold" text-anchor="middle" fill="#0c0c0c" stroke="#0c0c0c" stroke-width="0.35">0.2</text>
<text transform="translate(406.25,321.10) scale(1.0,1.05)" font-size="9.1" font-weight="bold" text-anchor="middle" fill="#0c0c0c" stroke="#0c0c0c" stroke-width="0.35">0.6</text>
<text transform="translate(431.20,321.10) scale(1.0,1.05)" font-size="9.1" font-weight="bold" text-anchor="middle" fill="#0c0c0c" stroke="#0c0c0c" stroke-width="0.35">0.48</text>
<text transform="translate(456.25,321.10) scale(1.0,1.05)" font-size="9.1" font-weight="bold" text-anchor="middle" fill="#0c0c0c" stroke="#0c0c0c" stroke-width="0.35">−0.46</text>
<text transform="translate(481.90,321.10) scale(1.0,1.05)" font-size="9.1" font-weight="bold" text-anchor="middle" fill="#0c0c0c" stroke="#0c0c0c" stroke-width="0.35">−0.32</text>
<text transform="translate(507.50,321.10) scale(1.0,1.05)" font-size="9.1" font-weight="bold" text-anchor="middle" fill="#0c0c0c" stroke="#0c0c0c" stroke-width="0.35">−0.36</text>
<text transform="translate(532.50,321.10) scale(1.0,1.05)" font-size="9.1" font-weight="bold" text-anchor="middle" fill="#0c0c0c" stroke="#0c0c0c" stroke-width="0.35">−0.24</text>
<text transform="translate(558.00,321.10) scale(1.0,1.05)" font-size="9.1" font-weight="bold" text-anchor="middle" fill="#0c0c0c" stroke="#0c0c0c" stroke-width="0.35">−0.32</text>
<text transform="translate(583.60,321.10) scale(1.0,1.05)" font-size="9.1" font-weight="bold" text-anchor="middle" fill="#0c0c0c" stroke="#0c0c0c" stroke-width="0.35">−0.21</text>
<text transform="translate(609.10,321.10) scale(1.0,1.05)" font-size="9.1" font-weight="bold" text-anchor="middle" fill="#0c0c0c" stroke="#0c0c0c" stroke-width="0.35">0.48</text>
<text transform="translate(331.40,346.25) scale(1.0,1.05)" font-size="9.1" font-weight="bold" text-anchor="middle" fill="#0c0c0c" stroke="#0c0c0c" stroke-width="0.35">0.43</text>
<text transform="translate(356.50,346.25) scale(1.0,1.05)" font-size="9.1" font-weight="bold" text-anchor="middle" fill="#0c0c0c" stroke="#0c0c0c" stroke-width="0.35">−0.04</text>
<text transform="translate(381.40,346.25) scale(1.0,1.05)" font-size="9.1" font-weight="bold" text-anchor="middle" fill="#0c0c0c" stroke="#0c0c0c" stroke-width="0.35">0.14</text>
<text transform="translate(406.25,346.25) scale(1.0,1.05)" font-size="9.1" font-weight="bold" text-anchor="middle" fill="#0c0c0c" stroke="#0c0c0c" stroke-width="0.35">0.58</text>
<text transform="translate(431.20,346.25) scale(1.0,1.05)" font-size="9.1" font-weight="bold" text-anchor="middle" fill="#0c0c0c" stroke="#0c0c0c" stroke-width="0.35">0.52</text>
<text transform="translate(456.25,346.25) scale(1.0,1.05)" font-size="9.1" font-weight="bold" text-anchor="middle" fill="#0c0c0c" stroke="#0c0c0c" stroke-width="0.35">−0.54</text>
<text transform="translate(481.90,346.25) scale(1.0,1.05)" font-size="9.1" font-weight="bold" text-anchor="middle" fill="#0c0c0c" stroke="#0c0c0c" stroke-width="0.35">−0.19</text>
<text transform="translate(507.50,346.25) scale(1.0,1.05)" font-size="9.1" font-weight="bold" text-anchor="middle" fill="#0c0c0c" stroke="#0c0c0c" stroke-width="0.35">−0.36</text>
<text transform="translate(532.50,346.25) scale(1.0,1.05)" font-size="9.1" font-weight="bold" text-anchor="middle" fill="#0c0c0c" stroke="#0c0c0c" stroke-width="0.35">−0.41</text>
<text transform="translate(558.00,346.25) scale(1.0,1.05)" font-size="9.1" font-weight="bold" text-anchor="middle" fill="#0c0c0c" stroke="#0c0c0c" stroke-width="0.35">−0.01</text>
<text transform="translate(583.60,346.25) scale(1.0,1.05)" font-size="9.1" font-weight="bold" text-anchor="middle" fill="#0c0c0c" stroke="#0c0c0c" stroke-width="0.35">−0.34</text>
<text transform="translate(609.10,346.25) scale(1.0,1.05)" font-size="9.1" font-weight="bold" text-anchor="middle" fill="#0c0c0c" stroke="#0c0c0c" stroke-width="0.35">0.63</text>
<text transform="translate(356.50,371.05) scale(1.0,1.05)" font-size="9.1" font-weight="bold" text-anchor="middle" fill="#0c0c0c" stroke="#0c0c0c" stroke-width="0.35">0.14</text>
<text transform="translate(381.40,371.05) scale(1.0,1.05)" font-size="9.1" font-weight="bold" text-anchor="middle" fill="#0c0c0c" stroke="#0c0c0c" stroke-width="0.35">0.52</text>
<text transform="translate(406.25,371.05) scale(1.0,1.05)" font-size="9.1" font-weight="bold" text-anchor="middle" fill="#0c0c0c" stroke="#0c0c0c" stroke-width="0.35">0.73</text>
<text transform="translate(431.20,371.05) scale(1.0,1.05)" font-size="9.1" font-weight="bold" text-anchor="middle" fill="#0c0c0c" stroke="#0c0c0c" stroke-width="0.35">0.78</text>
<text transform="translate(456.25,371.05) scale(1.0,1.05)" font-size="9.1" font-weight="bold" text-anchor="middle" fill="#0c0c0c" stroke="#0c0c0c" stroke-width="0.35">−0.81</text>
<text transform="translate(481.90,371.05) scale(1.0,1.05)" font-size="9.1" font-weight="bold" text-anchor="middle" fill="#0c0c0c" stroke="#0c0c0c" stroke-width="0.35">−0.23</text>
<text transform="translate(507.50,371.05) scale(1.0,1.05)" font-size="9.1" font-weight="bold" text-anchor="middle" fill="#0c0c0c" stroke="#0c0c0c" stroke-width="0.35">−0.14</text>
<text transform="translate(532.50,371.05) scale(1.0,1.05)" font-size="9.1" font-weight="bold" text-anchor="middle" fill="#0c0c0c" stroke="#0c0c0c" stroke-width="0.35">−0.53</text>
<text transform="translate(558.00,371.05) scale(1.0,1.05)" font-size="9.1" font-weight="bold" text-anchor="middle" fill="#0c0c0c" stroke="#0c0c0c" stroke-width="0.35">−0.26</text>
<text transform="translate(583.60,371.05) scale(1.0,1.05)" font-size="9.1" font-weight="bold" text-anchor="middle" fill="#0c0c0c" stroke="#0c0c0c" stroke-width="0.35">−0.4</text>
<text transform="translate(609.10,371.05) scale(1.0,1.05)" font-size="9.1" font-weight="bold" text-anchor="middle" fill="#0c0c0c" stroke="#0c0c0c" stroke-width="0.35">0.6</text>
<text transform="translate(381.40,395.95) scale(1.0,1.05)" font-size="9.1" font-weight="bold" text-anchor="middle" fill="#0c0c0c" stroke="#0c0c0c" stroke-width="0.35">0.9</text>
<text transform="translate(406.25,395.95) scale(1.0,1.05)" font-size="9.1" font-weight="bold" text-anchor="middle" fill="#0c0c0c" stroke="#0c0c0c" stroke-width="0.35">0.03</text>
<text transform="translate(431.20,395.95) scale(1.0,1.05)" font-size="9.1" font-weight="bold" text-anchor="middle" fill="#0c0c0c" stroke="#0c0c0c" stroke-width="0.35">0.01</text>
<text transform="translate(456.25,395.95) scale(1.0,1.05)" font-size="9.1" font-weight="bold" text-anchor="middle" fill="#0c0c0c" stroke="#0c0c0c" stroke-width="0.35">−0.02</text>
<text transform="translate(481.90,395.95) scale(1.0,1.05)" font-size="9.1" font-weight="bold" text-anchor="middle" fill="#0c0c0c" stroke="#0c0c0c" stroke-width="0.35">0.06</text>
<text transform="translate(507.50,395.95) scale(1.0,1.05)" font-size="9.1" font-weight="bold" text-anchor="middle" fill="#0c0c0c" stroke="#0c0c0c" stroke-width="0.35">0.07</text>
<text transform="translate(532.50,395.95) scale(1.0,1.05)" font-size="9.1" font-weight="bold" text-anchor="middle" fill="#0c0c0c" stroke="#0c0c0c" stroke-width="0.35">0.01</text>
<text transform="translate(558.00,395.95) scale(1.0,1.05)" font-size="9.1" font-weight="bold" text-anchor="middle" fill="#0c0c0c" stroke="#0c0c0c" stroke-width="0.35">0.14</text>
<text transform="translate(583.60,395.95) scale(1.0,1.05)" font-size="9.1" font-weight="bold" text-anchor="middle" fill="#0c0c0c" stroke="#0c0c0c" stroke-width="0.35">0.15</text>
<text transform="translate(609.10,395.95) scale(1.0,1.05)" font-size="9.1" font-weight="bold" text-anchor="middle" fill="#0c0c0c" stroke="#0c0c0c" stroke-width="0.35">−0.05</text>
<text transform="translate(406.25,421.10) scale(1.0,1.05)" font-size="9.1" font-weight="bold" text-anchor="middle" fill="#0c0c0c" stroke="#0c0c0c" stroke-width="0.35">0.29</text>
<text transform="translate(431.20,421.10) scale(1.0,1.05)" font-size="9.1" font-weight="bold" text-anchor="middle" fill="#0c0c0c" stroke="#0c0c0c" stroke-width="0.35">0.34</text>
<text transform="translate(456.25,421.10) scale(1.0,1.05)" font-size="9.1" font-weight="bold" text-anchor="middle" fill="#0c0c0c" stroke="#0c0c0c" stroke-width="0.35">−0.36</text>
<text transform="translate(481.90,421.10) scale(1.0,1.05)" font-size="9.1" font-weight="bold" text-anchor="middle" fill="#0c0c0c" stroke="#0c0c0c" stroke-width="0.35">−0.07</text>
<text transform="translate(507.50,421.10) scale(1.0,1.05)" font-size="9.1" font-weight="bold" text-anchor="middle" fill="#0c0c0c" stroke="#0c0c0c" stroke-width="0.35">0.02</text>
<text transform="translate(532.50,421.10) scale(1.0,1.05)" font-size="9.1" font-weight="bold" text-anchor="middle" fill="#0c0c0c" stroke="#0c0c0c" stroke-width="0.35">−0.16</text>
<text transform="translate(558.00,421.10) scale(1.0,1.05)" font-size="9.1" font-weight="bold" text-anchor="middle" fill="#0c0c0c" stroke="#0c0c0c" stroke-width="0.35">−0.01</text>
<text transform="translate(583.60,421.10) scale(1.0,1.05)" font-size="9.1" font-weight="bold" text-anchor="middle" fill="#0c0c0c" stroke="#0c0c0c" stroke-width="0.35">−0.02</text>
<text transform="translate(609.10,421.10) scale(1.0,1.05)" font-size="9.1" font-weight="bold" text-anchor="middle" fill="#0c0c0c" stroke="#0c0c0c" stroke-width="0.35">0.15</text>
<text transform="translate(431.20,446.15) scale(1.0,1.05)" font-size="9.1" font-weight="bold" text-anchor="middle" fill="#0c0c0c" stroke="#0c0c0c" stroke-width="0.35">0.84</text>
<text transform="translate(456.25,446.15) scale(1.0,1.05)" font-size="9.1" font-weight="bold" text-anchor="middle" fill="#0c0c0c" stroke="#0c0c0c" stroke-width="0.35">−0.83</text>
<text transform="translate(481.90,446.15) scale(1.0,1.05)" font-size="9.1" font-weight="bold" text-anchor="middle" fill="#0c0c0c" stroke="#0c0c0c" stroke-width="0.35">−0.42</text>
<text transform="translate(507.50,446.15) scale(1.0,1.05)" font-size="9.1" font-weight="bold" text-anchor="middle" fill="#0c0c0c" stroke="#0c0c0c" stroke-width="0.35">−0.49</text>
<text transform="translate(532.50,446.15) scale(1.0,1.05)" font-size="9.1" font-weight="bold" text-anchor="middle" fill="#0c0c0c" stroke="#0c0c0c" stroke-width="0.35">−0.48</text>
<text transform="translate(558.00,446.15) scale(1.0,1.05)" font-size="9.1" font-weight="bold" text-anchor="middle" fill="#0c0c0c" stroke="#0c0c0c" stroke-width="0.35">−0.31</text>
<text transform="translate(583.60,446.15) scale(1.0,1.05)" font-size="9.1" font-weight="bold" text-anchor="middle" fill="#0c0c0c" stroke="#0c0c0c" stroke-width="0.35">−0.54</text>
<text transform="translate(609.10,446.15) scale(1.0,1.05)" font-size="9.1" font-weight="bold" text-anchor="middle" fill="#0c0c0c" stroke="#0c0c0c" stroke-width="0.35">0.77</text>
<text transform="translate(456.25,471.10) scale(1.0,1.05)" font-size="9.1" font-weight="bold" text-anchor="middle" fill="#0c0c0c" stroke="#0c0c0c" stroke-width="0.35">−0.98</text>
<text transform="translate(481.90,471.10) scale(1.0,1.05)" font-size="9.1" font-weight="bold" text-anchor="middle" fill="#0c0c0c" stroke="#0c0c0c" stroke-width="0.35">−0.55</text>
<text transform="translate(507.50,471.10) scale(1.0,1.05)" font-size="9.1" font-weight="bold" text-anchor="middle" fill="#0c0c0c" stroke="#0c0c0c" stroke-width="0.35">−0.35</text>
<text transform="translate(532.50,471.10) scale(1.0,1.05)" font-size="9.1" font-weight="bold" text-anchor="middle" fill="#0c0c0c" stroke="#0c0c0c" stroke-width="0.35">−0.48</text>
<text transform="translate(558.00,471.10) scale(1.0,1.05)" font-size="9.1" font-weight="bold" text-anchor="middle" fill="#0c0c0c" stroke="#0c0c0c" stroke-width="0.35">−0.27</text>
<text transform="translate(583.60,471.10) scale(1.0,1.05)" font-size="9.1" font-weight="bold" text-anchor="middle" fill="#0c0c0c" stroke="#0c0c0c" stroke-width="0.35">−0.45</text>
<text transform="translate(609.10,471.10) scale(1.0,1.05)" font-size="9.1" font-weight="bold" text-anchor="middle" fill="#0c0c0c" stroke="#0c0c0c" stroke-width="0.35">0.71</text>
<text transform="translate(481.90,495.90) scale(1.0,1.05)" font-size="9.1" font-weight="bold" text-anchor="middle" fill="#0c0c0c" stroke="#0c0c0c" stroke-width="0.35">0.37</text>
<text transform="translate(507.50,495.90) scale(1.0,1.05)" font-size="9.1" font-weight="bold" text-anchor="middle" fill="#0c0c0c" stroke="#0c0c0c" stroke-width="0.35">0.33</text>
<text transform="translate(532.50,495.90) scale(1.0,1.05)" font-size="9.1" font-weight="bold" text-anchor="middle" fill="#0c0c0c" stroke="#0c0c0c" stroke-width="0.35">0.52</text>
<text transform="translate(558.00,495.90) scale(1.0,1.05)" font-size="9.1" font-weight="bold" text-anchor="middle" fill="#0c0c0c" stroke="#0c0c0c" stroke-width="0.35">0.22</text>
<text transform="translate(583.60,495.90) scale(1.0,1.05)" font-size="9.1" font-weight="bold" text-anchor="middle" fill="#0c0c0c" stroke="#0c0c0c" stroke-width="0.35">0.44</text>
<text transform="translate(609.10,495.90) scale(1.0,1.05)" font-size="9.1" font-weight="bold" text-anchor="middle" fill="#0c0c0c" stroke="#0c0c0c" stroke-width="0.35">−0.7</text>
<text transform="translate(507.50,521.15) scale(1.0,1.05)" font-size="9.1" font-weight="bold" text-anchor="middle" fill="#0c0c0c" stroke="#0c0c0c" stroke-width="0.35">0.22</text>
<text transform="translate(532.50,521.15) scale(1.0,1.05)" font-size="9.1" font-weight="bold" text-anchor="middle" fill="#0c0c0c" stroke="#0c0c0c" stroke-width="0.35">0.09</text>
<text transform="translate(558.00,521.15) scale(1.0,1.05)" font-size="9.1" font-weight="bold" text-anchor="middle" fill="#0c0c0c" stroke="#0c0c0c" stroke-width="0.35">0.35</text>
<text transform="translate(583.60,521.15) scale(1.0,1.05)" font-size="9.1" font-weight="bold" text-anchor="middle" fill="#0c0c0c" stroke="#0c0c0c" stroke-width="0.35">0.27</text>
<text transform="translate(609.10,521.15) scale(1.0,1.05)" font-size="9.1" font-weight="bold" text-anchor="middle" fill="#0c0c0c" stroke="#0c0c0c" stroke-width="0.35">−0.35</text>
<text transform="translate(532.50,546.55) scale(1.0,1.05)" font-size="9.1" font-weight="bold" text-anchor="middle" fill="#0c0c0c" stroke="#0c0c0c" stroke-width="0.35">0.32</text>
<text transform="translate(558.00,546.55) scale(1.0,1.05)" font-size="9.1" font-weight="bold" text-anchor="middle" fill="#0c0c0c" stroke="#0c0c0c" stroke-width="0.35">0.05</text>
<text transform="translate(583.60,546.55) scale(1.0,1.05)" font-size="9.1" font-weight="bold" text-anchor="middle" fill="#0c0c0c" stroke="#0c0c0c" stroke-width="0.35">0.39</text>
<text transform="translate(609.10,546.55) scale(1.0,1.05)" font-size="9.1" font-weight="bold" text-anchor="middle" fill="#0c0c0c" stroke="#0c0c0c" stroke-width="0.35">−0.56</text>
<text transform="translate(558.00,571.80) scale(1.0,1.05)" font-size="9.1" font-weight="bold" text-anchor="middle" fill="#0c0c0c" stroke="#0c0c0c" stroke-width="0.35">−0.06</text>
<text transform="translate(583.60,571.80) scale(1.0,1.05)" font-size="9.1" font-weight="bold" text-anchor="middle" fill="#0c0c0c" stroke="#0c0c0c" stroke-width="0.35">0.21</text>
<text transform="translate(609.10,571.80) scale(1.0,1.05)" font-size="9.1" font-weight="bold" text-anchor="middle" fill="#0c0c0c" stroke="#0c0c0c" stroke-width="0.35">−0.69</text>
<text transform="translate(583.60,597.45) scale(1.0,1.05)" font-size="9.1" font-weight="bold" text-anchor="middle" fill="#0c0c0c" stroke="#0c0c0c" stroke-width="0.35">0.65</text>
<text transform="translate(609.10,597.45) scale(1.0,1.05)" font-size="9.1" font-weight="bold" text-anchor="middle" fill="#0c0c0c" stroke="#0c0c0c" stroke-width="0.35">−0.14</text>
<text transform="translate(609.10,623.40) scale(1.0,1.05)" font-size="9.1" font-weight="bold" text-anchor="middle" fill="#0c0c0c" stroke="#0c0c0c" stroke-width="0.35">−0.59</text>
<text x="112.00" y="147.40" font-size="21.8" text-anchor="end" fill="#ee1515" stroke="#ee1515" stroke-width="0.35">As</text>
<text x="137.23" y="172.35" font-size="21.8" text-anchor="end" fill="#ee1515" stroke="#ee1515" stroke-width="0.35">Ba</text>
<text x="162.06" y="197.30" font-size="21.8" text-anchor="end" fill="#ee1515" stroke="#ee1515" stroke-width="0.35">Cd</text>
<text x="185.29" y="222.35" font-size="21.8" text-anchor="end" fill="#ee1515" stroke="#ee1515" stroke-width="0.35">Cr</text>
<text x="212.02" y="247.35" font-size="21.8" text-anchor="end" fill="#ee1515" stroke="#ee1515" stroke-width="0.35">Cu</text>
<text x="237.75" y="272.40" font-size="21.8" text-anchor="end" fill="#ee1515" stroke="#ee1515" stroke-width="0.35">Ni</text>
<text x="261.48" y="297.55" font-size="21.8" text-anchor="end" fill="#ee1515" stroke="#ee1515" stroke-width="0.35">Pb</text>
<text x="287.11" y="322.70" font-size="21.8" text-anchor="end" fill="#ee1515" stroke="#ee1515" stroke-width="0.35">Zn</text>
<text x="312.54" y="347.85" font-size="21.8" text-anchor="end" fill="#ee1515" stroke="#ee1515" stroke-width="0.35">Hg</text>
<text x="336.57" y="372.65" font-size="21.8" text-anchor="end" fill="#ee1515" stroke="#ee1515" stroke-width="0.35">THC</text>
<text x="363.17" y="397.55" font-size="21.8" text-anchor="end" fill="#ee1515" stroke="#ee1515" stroke-width="0.35" letter-spacing="-0.33">PAH</text>
<text x="385.13" y="422.70" font-size="21.8" text-anchor="end" fill="#ee1515" stroke="#ee1515" stroke-width="0.35" letter-spacing="-0.5">NPD</text>
<text x="412.26" y="447.75" font-size="21.8" text-anchor="end" fill="#ee1515" stroke="#ee1515" stroke-width="0.35">TOM</text>
<text x="437.39" y="472.70" font-size="21.8" text-anchor="end" fill="#ee1515" stroke="#ee1515" stroke-width="0.35">Mud</text>
<text x="462.32" y="497.50" font-size="21.8" text-anchor="end" fill="#ee1515" stroke="#ee1515" stroke-width="0.35">Sand</text>
<text x="485.35" y="522.75" font-size="21.8" text-anchor="end" fill="#ee1515" stroke="#ee1515" stroke-width="0.35" letter-spacing="-0.4">Gravel</text>
<text x="514.78" y="548.15" font-size="21.8" text-anchor="end" fill="#ee1515" stroke="#ee1515" stroke-width="0.35">Temperature</text>
<text x="542.81" y="573.40" font-size="21.8" text-anchor="end" fill="#ee1515" stroke="#ee1515" stroke-width="0.35">Salinity</text>
<text x="563.64" y="599.05" font-size="21.8" text-anchor="end" fill="#ee1515" stroke="#ee1515" stroke-width="0.35">Oxygen</text>
<text x="589.27" y="625.00" font-size="21.8" text-anchor="end" fill="#ee1515" stroke="#ee1515" stroke-width="0.35">FLU</text>
<text transform="translate(140.45,122.50) rotate(-90)" font-size="21.8" text-anchor="start" fill="#ee1515" stroke="#ee1515" stroke-width="0.35">Ba</text>
<text transform="translate(165.52,122.50) rotate(-90)" font-size="21.8" text-anchor="start" fill="#ee1515" stroke="#ee1515" stroke-width="0.35">Cd</text>
<text transform="translate(190.59,122.50) rotate(-90)" font-size="21.8" text-anchor="start" fill="#ee1515" stroke="#ee1515" stroke-width="0.35">Cr</text>
<text transform="translate(215.66,122.50) rotate(-90)" font-size="21.8" text-anchor="start" fill="#ee1515" stroke="#ee1515" stroke-width="0.35">Cu</text>
<text transform="translate(240.73,122.50) rotate(-90)" font-size="21.8" text-anchor="start" fill="#ee1515" stroke="#ee1515" stroke-width="0.35">Ni</text>
<text transform="translate(265.80,122.50) rotate(-90)" font-size="21.8" text-anchor="start" fill="#ee1515" stroke="#ee1515" stroke-width="0.35">Pb</text>
<text transform="translate(289.67,122.50) rotate(-90)" font-size="21.8" text-anchor="start" fill="#ee1515" stroke="#ee1515" stroke-width="0.35">Zn</text>
<text transform="translate(312.39,122.50) rotate(-90)" font-size="21.8" text-anchor="start" fill="#ee1515" stroke="#ee1515" stroke-width="0.35">Hg</text>
<text transform="translate(337.31,122.50) rotate(-90)" font-size="21.8" text-anchor="start" fill="#ee1515" stroke="#ee1515" stroke-width="0.35">THC</text>
<text transform="translate(364.58,122.50) rotate(-90)" font-size="21.8" text-anchor="start" fill="#ee1515" stroke="#ee1515" stroke-width="0.35">PAH</text>
<text transform="translate(389.75,122.50) rotate(-90)" font-size="21.8" text-anchor="start" fill="#ee1515" stroke="#ee1515" stroke-width="0.35">NPD</text>
<text transform="translate(414.72,122.50) rotate(-90)" font-size="21.8" text-anchor="start" fill="#ee1515" stroke="#ee1515" stroke-width="0.35">TOM</text>
<text transform="translate(439.59,122.50) rotate(-90)" font-size="21.8" text-anchor="start" fill="#ee1515" stroke="#ee1515" stroke-width="0.35">Mud</text>
<text transform="translate(464.76,122.50) rotate(-90)" font-size="21.8" text-anchor="start" fill="#ee1515" stroke="#ee1515" stroke-width="0.35">Sand</text>
<text transform="translate(489.73,122.50) rotate(-90)" font-size="21.8" text-anchor="start" fill="#ee1515" stroke="#ee1515" stroke-width="0.35">Gravel</text>
<text transform="translate(515.60,122.50) rotate(-90)" font-size="21.8" text-anchor="start" fill="#ee1515" stroke="#ee1515" stroke-width="0.35">Temperature</text>
<text transform="translate(540.37,122.50) rotate(-90)" font-size="21.8" text-anchor="start" fill="#ee1515" stroke="#ee1515" stroke-width="0.35">Salinity</text>
<text transform="translate(564.74,122.50) rotate(-90)" font-size="21.8" text-anchor="start" fill="#ee1515" stroke="#ee1515" stroke-width="0.35">Oxygen</text>
<text transform="translate(591.71,122.50) rotate(-90)" font-size="21.8" text-anchor="start" fill="#ee1515" stroke="#ee1515" stroke-width="0.35">FLU</text>
<text transform="translate(615.28,122.50) rotate(-90)" font-size="21.8" text-anchor="start" fill="#ee1515" stroke="#ee1515" stroke-width="0.35">Depth</text>
<rect x="137.50" y="530.00" width="25.50" height="26.50" fill="#c8433f"/>
<rect x="162.60" y="530.00" width="25.40" height="26.50" fill="#da6a55"/>
<rect x="187.60" y="530.00" width="25.90" height="26.50" fill="#ffffff"/>
<rect x="162.60" y="556.10" width="25.40" height="25.90" fill="#abd2e5"/>
<rect x="187.60" y="556.10" width="25.90" height="25.90" fill="#f4f8fb"/>
<rect x="187.60" y="581.60" width="25.90" height="25.60" fill="#fef4ee"/>
<text transform="translate(150.05,547.05) scale(1.0,1.05)" font-size="9.1" font-weight="bold" text-anchor="middle" fill="#0c0c0c" stroke="#0c0c0c" stroke-width="0.35">−0.68</text>
<text transform="translate(175.10,547.05) scale(1.0,1.05)" font-size="9.1" font-weight="bold" text-anchor="middle" fill="#0c0c0c" stroke="#0c0c0c" stroke-width="0.35">−0.57</text>
<text transform="translate(200.35,547.05) scale(1.0,1.05)" font-size="9.1" font-weight="bold" text-anchor="middle" fill="#0c0c0c" stroke="#0c0c0c" stroke-width="0.35">0</text>
<text transform="translate(175.10,572.85) scale(1.0,1.05)" font-size="9.1" font-weight="bold" text-anchor="middle" fill="#0c0c0c" stroke="#0c0c0c" stroke-width="0.35">0.32</text>
<text transform="translate(200.35,572.85) scale(1.0,1.05)" font-size="9.1" font-weight="bold" text-anchor="middle" fill="#0c0c0c" stroke="#0c0c0c" stroke-width="0.35">0.05</text>
<text transform="translate(200.35,598.20) scale(1.0,1.05)" font-size="9.1" font-weight="bold" text-anchor="middle" fill="#0c0c0c" stroke="#0c0c0c" stroke-width="0.35">−0.06</text>
<text x="125.95" y="547.90" font-size="21.8" text-anchor="end" fill="#ee1515" stroke="#ee1515" stroke-width="0.35">Ba</text>
<text x="155.55" y="573.60" font-size="21.8" text-anchor="end" fill="#ee1515" stroke="#ee1515" stroke-width="0.35">Temperature</text>
<text x="178.80" y="597.10" font-size="21.8" text-anchor="end" fill="#ee1515" stroke="#ee1515" stroke-width="0.35">Salinity</text>
<text transform="translate(157.20,522.20) rotate(-90)" font-size="21.8" text-anchor="start" fill="#ee1515" stroke="#ee1515" stroke-width="0.35">Temperature</text>
<text transform="translate(182.40,522.20) rotate(-90)" font-size="21.8" text-anchor="start" fill="#ee1515" stroke="#ee1515" stroke-width="0.35">Salinity</text>
<text transform="translate(207.50,522.20) rotate(-90)" font-size="21.8" text-anchor="start" fill="#ee1515" stroke="#ee1515" stroke-width="0.35">Oxygen</text>
<rect x="632.5" y="129.3" width="21.8" height="503.1" fill="url(#g)" stroke="#000" stroke-width="1.4"/>
<line x1="654.3" y1="129.30" x2="659.0999999999999" y2="129.30" stroke="#000" stroke-width="1.4"/>
<text x="681.55" y="135.30" font-size="16" fill="#111" stroke="#111" stroke-width="0.25" letter-spacing="1.3" text-anchor="middle">1</text>
<line x1="654.3" y1="179.61" x2="659.0999999999999" y2="179.61" stroke="#000" stroke-width="1.4"/>
<text x="681.55" y="185.61" font-size="16" fill="#111" stroke="#111" stroke-width="0.25" letter-spacing="1.3" text-anchor="middle">0.8</text>
<line x1="654.3" y1="229.92" x2="659.0999999999999" y2="229.92" stroke="#000" stroke-width="1.4"/>
<text x="681.55" y="235.92" font-size="16" fill="#111" stroke="#111" stroke-width="0.25" letter-spacing="1.3" text-anchor="middle">0.6</text>
<line x1="654.3" y1="280.23" x2="659.0999999999999" y2="280.23" stroke="#000" stroke-width="1.4"/>
<text x="681.55" y="286.23" font-size="16" fill="#111" stroke="#111" stroke-width="0.25" letter-spacing="1.3" text-anchor="middle">0.4</text>
<line x1="654.3" y1="330.54" x2="659.0999999999999" y2="330.54" stroke="#000" stroke-width="1.4"/>
<text x="681.55" y="336.54" font-size="16" fill="#111" stroke="#111" stroke-width="0.25" letter-spacing="1.3" text-anchor="middle">0.2</text>
<line x1="654.3" y1="380.85" x2="659.0999999999999" y2="380.85" stroke="#000" stroke-width="1.4"/>
<text x="681.55" y="386.85" font-size="16" fill="#111" stroke="#111" stroke-width="0.25" letter-spacing="1.3" text-anchor="middle">0</text>
<line x1="654.3" y1="431.16" x2="659.0999999999999" y2="431.16" stroke="#000" stroke-width="1.4"/>
<text x="681.55" y="437.16" font-size="16" fill="#111" stroke="#111" stroke-width="0.25" letter-spacing="1.3" text-anchor="middle">−0.2</text>
<line x1="654.3" y1="481.47" x2="659.0999999999999" y2="481.47" stroke="#000" stroke-width="1.4"/>
<text x="681.55" y="487.47" font-size="16" fill="#111" stroke="#111" stroke-width="0.25" letter-spacing="1.3" text-anchor="middle">−0.4</text>
<line x1="654.3" y1="531.78" x2="659.0999999999999" y2="531.78" stroke="#000" stroke-width="1.4"/>
<text x="681.55" y="537.78" font-size="16" fill="#111" stroke="#111" stroke-width="0.25" letter-spacing="1.3" text-anchor="middle">−0.6</text>
<line x1="654.3" y1="582.09" x2="659.0999999999999" y2="582.09" stroke="#000" stroke-width="1.4"/>
<text x="681.55" y="588.09" font-size="16" fill="#111" stroke="#111" stroke-width="0.25" letter-spacing="1.3" text-anchor="middle">−0.8</text>
<line x1="654.3" y1="632.40" x2="659.0999999999999" y2="632.40" stroke="#000" stroke-width="1.4"/>
<text x="681.55" y="638.40" font-size="16" fill="#111" stroke="#111" stroke-width="0.25" letter-spacing="1.3" text-anchor="middle">−1</text>
<rect x="228.3" y="531.3" width="21.7" height="75.2" fill="url(#g)" stroke="#000" stroke-width="1.5"/>
<line x1="250.0" y1="531.30" x2="254.5" y2="531.30" stroke="#000" stroke-width="1.5"/>
<text x="261.6" y="536.10" font-size="12" fill="#2a2a2a" letter-spacing="0">1</text>
<line x1="250.0" y1="546.34" x2="254.5" y2="546.34" stroke="#000" stroke-width="1.5"/>
<text x="261.6" y="551.14" font-size="12" fill="#2a2a2a" letter-spacing="0">0.6</text>
<line x1="250.0" y1="561.38" x2="254.5" y2="561.38" stroke="#000" stroke-width="1.5"/>
<text x="261.6" y="566.18" font-size="12" fill="#2a2a2a" letter-spacing="0">0.2</text>
<line x1="250.0" y1="576.42" x2="254.5" y2="576.42" stroke="#000" stroke-width="1.5"/>
<text x="261.6" y="581.22" font-size="12" fill="#2a2a2a" letter-spacing="0">0.2</text>
<text x="261.6" y="581.22" font-size="12" fill="#2a2a2a" text-anchor="end">-</text>
<line x1="250.0" y1="591.46" x2="254.5" y2="591.46" stroke="#000" stroke-width="1.5"/>
<text x="261.6" y="596.26" font-size="12" fill="#2a2a2a" letter-spacing="0">0.6</text>
<text x="261.6" y="596.26" font-size="12" fill="#2a2a2a" text-anchor="end">-</text>
<line x1="250.0" y1="606.50" x2="254.5" y2="606.50" stroke="#000" stroke-width="1.5"/>
<text x="261.6" y="611.30" font-size="12" fill="#2a2a2a" letter-spacing="0">1</text>
<text x="261.6" y="611.30" font-size="12" fill="#2a2a2a" text-anchor="end">-</text>
<text transform="translate(2.3,22) scale(1.05,1)" font-size="25" font-weight="bold" fill="#000">A</text>
<text x="1.4" y="383.3" font-size="25" font-weight="bold" fill="#000">B</text>
</svg>
</body></html>
